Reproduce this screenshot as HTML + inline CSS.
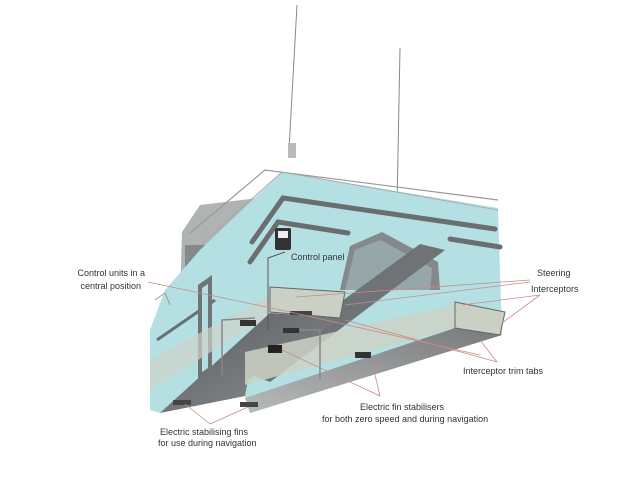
<!DOCTYPE html>
<html><head><meta charset="utf-8"><style>
html,body{margin:0;padding:0;background:#fff}
svg{display:block}
text{font-family:"Liberation Sans",sans-serif;font-size:9px;fill:#333}
</style></head><body>
<svg width="640" height="480" viewBox="0 0 640 480" xmlns="http://www.w3.org/2000/svg">
<defs>
<linearGradient id="ug" x1="0" y1="0" x2="1" y2="1">
<stop offset="0" stop-color="#5a5d5f"/><stop offset="1" stop-color="#8d9092"/></linearGradient>
<linearGradient id="ug2" x1="1" y1="0" x2="0" y2="1">
<stop offset="0" stop-color="#77797b"/><stop offset="1" stop-color="#b7babb"/></linearGradient>
</defs>
<line x1="289" y1="150" x2="297" y2="5" stroke="#888" stroke-width="1"/>
<line x1="397" y1="205" x2="400" y2="48" stroke="#888" stroke-width="1"/>
<rect x="288" y="143" width="8" height="15" fill="#bbb"/>
<polygon points="180,300 182,232 200,205 258,198 262,215 215,262 195,300" fill="#b0b3b4"/>
<rect x="185" y="245" width="20" height="50" fill="#85898b"/>
<polygon points="150,410 150,330 165,290 200,250 282,172 498,208 502,335 250,413 245,396 160,413" fill="#b4e0e4"/>
<polyline points="190,233 265,170 498,200" fill="none" stroke="#999" stroke-width="1.2"/>
<polyline points="200,245 282,172 498,210" fill="none" stroke="#aaa" stroke-width="1"/>
<polyline points="155,300 165,293 170,305" fill="none" stroke="#999" stroke-width="1"/>
<polyline points="252,242 283,198 495,229" fill="none" stroke="#6a6e70" stroke-width="5" stroke-linecap="round"/>
<polyline points="250,262 278,222 348,233" fill="none" stroke="#6a6e70" stroke-width="5" stroke-linecap="round"/>
<line x1="450" y1="239" x2="500" y2="247" stroke="#6a6e70" stroke-width="5" stroke-linecap="round"/>
<line x1="157" y1="340" x2="215" y2="300" stroke="#6a6e70" stroke-width="3"/>
<polygon points="340,290 350,246 382,232 438,262 440,290" fill="#86898b"/>
<polygon points="345,290 355,250 380,240 432,268 430,292" fill="#b4e0e4" opacity="0.35"/>
<polygon points="245,372 420,244 445,250 270,382" fill="#6f7375"/>
<polygon points="198,285 212,275 212,370 198,380" fill="#707476"/>
<polygon points="202,288 208,284 208,368 202,372" fill="#b4e0e4"/>
<polygon points="150,360 270,295 270,315 150,390" fill="#cdd3c9" opacity="0.7"/>
<polygon points="160,413 270,313 342,318 248,380 245,396" fill="url(#ug)"/>
<polygon points="270,287 345,292 340,318 270,312" fill="#cbd0c4" stroke="#666" stroke-width="1"/>
<polygon points="245,352 455,305 455,328 245,385" fill="#cdd2c6" opacity="0.85"/>
<polygon points="455,328 502,335 250,413 245,398" fill="url(#ug2)"/>
<polygon points="455,302 505,312 500,335 455,328" fill="#cbd0c4" stroke="#666" stroke-width="1"/>
<polyline points="285,252 268,258 268,330" fill="none" stroke="#555" stroke-width="1"/>
<polyline points="255,318 222,320 222,375" fill="none" stroke="#888" stroke-width="1.5"/>
<polyline points="300,330 320,330 320,380" fill="none" stroke="#888" stroke-width="1.5"/>
<rect x="275" y="228" width="16" height="22" rx="2" fill="#333"/>
<rect x="278" y="231" width="10" height="7" fill="#eee"/>
<rect x="240" y="320" width="16" height="6" fill="#333"/>
<rect x="283" y="328" width="16" height="5" fill="#333"/>
<rect x="268" y="345" width="14" height="8" fill="#222"/>
<rect x="355" y="352" width="16" height="6" fill="#333"/>
<rect x="173" y="400" width="18" height="5" fill="#444"/>
<rect x="240" y="402" width="18" height="5" fill="#444"/>
<rect x="290" y="311" width="22" height="4" fill="#444"/>
<g stroke="#c98a8a" stroke-width="0.8" fill="none">
<line x1="148" y1="282" x2="290" y2="312"/>
<line x1="290" y1="312" x2="480" y2="355"/>
<line x1="530" y1="280" x2="296" y2="297"/>
<line x1="530" y1="282" x2="345" y2="305"/>
<line x1="540" y1="295" x2="462" y2="305"/>
<line x1="540" y1="295" x2="502" y2="323"/>
<line x1="497" y1="362" x2="345" y2="320"/>
<line x1="497" y1="362" x2="480" y2="340"/>
<line x1="380" y1="396" x2="282" y2="350"/>
<line x1="380" y1="396" x2="372" y2="362"/>
<line x1="210" y1="424" x2="185" y2="404"/>
<line x1="210" y1="424" x2="248" y2="407"/>
</g>
<text x="291" y="260">Control panel</text>
<text x="145" y="276" text-anchor="end">Control units in a</text>
<text x="141" y="289" text-anchor="end">central position</text>
<text x="537" y="276">Steering</text>
<text x="531" y="292">Interceptors</text>
<text x="463" y="374">Interceptor trim tabs</text>
<text x="360" y="410">Electric fin stabilisers</text>
<text x="322" y="422">for both zero speed and during navigation</text>
<text x="160" y="435">Electric stabilising fins</text>
<text x="158" y="446">for use during navigation</text>
</svg>
</body></html>
